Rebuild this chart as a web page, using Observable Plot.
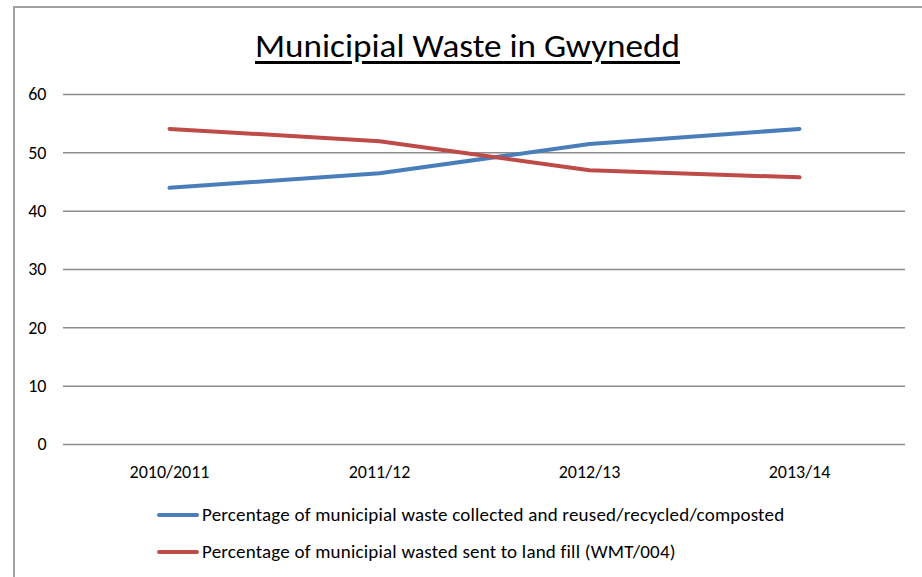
<!DOCTYPE html>
<html><head><meta charset="utf-8">
<script src="https://cdn.jsdelivr.net/npm/d3@7"></script>
<script src="https://cdn.jsdelivr.net/npm/@observablehq/plot@0.6"></script>
<style>
html,body{margin:0;padding:0;background:#fff;}
#wrap{position:relative;width:922px;height:577px;overflow:hidden;font-family:Carlito,"Liberation Sans Narrow","Open Sans",sans-serif;}
#frame{position:absolute;left:13px;top:6px;width:920px;height:580px;border-left:2px solid #a0a0a0;border-top:2px solid #a0a0a0;}
#title{position:absolute;left:255px;top:26px;font-size:33px;line-height:40px;color:#000;transform-origin:0 0;white-space:nowrap;}
#title span{text-decoration:underline;text-decoration-thickness:3px;text-underline-offset:4px;}
#chart{position:absolute;left:0;top:0;}
#chart svg text{font-size:18px !important;fill:#000;}
.leg{position:absolute;left:157px;font-size:19px;letter-spacing:0.2px;color:#000;display:flex;align-items:center;white-space:nowrap;}
.sw{display:inline-block;width:42px;height:4px;border-radius:2px;margin-right:3px;}
</style></head>
<body>
<div id="wrap">
  <div id="chart"></div>
  <div id="frame"></div>
  <div id="title"><span>Municipial Waste in Gwynedd</span></div>
  <div id="legend"></div>
</div>
<script>
const years = ["2010/2011", "2011/12", "2012/13", "2013/14"];
const recycled = [44.0, 46.5, 51.5, 54.1];
const landfill = [54.1, 52.0, 47.0, 45.8];
const seriesNames = [
  "Percentage of municipial waste collected and reused/recycled/composted",
  "Percentage of municipial wasted sent to land fill (WMT/004)"
];
const seriesColors = ["#4a7ebb", "#be4b48"];
const yTicks = [0, 10, 20, 30, 40, 50, 60];

const rows = [];
years.forEach((y, i) => {
  rows.push({year: y, value: recycled[i], series: seriesNames[0]});
  rows.push({year: y, value: landfill[i], series: seriesNames[1]});
});

const chart = Plot.plot({
  width: 922,
  height: 577,
  marginLeft: 63,
  marginRight: 17,
  marginTop: 94,
  marginBottom: 133,
  style: {fontFamily: 'Carlito,"Liberation Sans Narrow","Open Sans",sans-serif', fontSize: "18px", color: "#000", background: "transparent"},
  x: {type: "point", domain: years, padding: 0.5, label: null},
  y: {domain: [0, 60], ticks: yTicks, label: null},
  color: {domain: seriesNames, range: seriesColors},
  marks: [
    Plot.ruleY(yTicks, {stroke: "#8c8c8c", strokeWidth: 1.5}),
    Plot.axisY({ticks: yTicks, tickSize: 0, tickPadding: 17, fontSize: 18, label: null}),
    Plot.axisX({tickSize: 0, tickPadding: 21, fontSize: 18, label: null}),
    Plot.line(rows, {x: "year", y: "value", z: "series", stroke: "series", strokeWidth: 4, strokeLinecap: "round", strokeLinejoin: "round"})
  ]
});
document.getElementById("chart").appendChild(chart);

const legend = document.getElementById("legend");
seriesNames.forEach((name, i) => {
  const d = document.createElement("div");
  d.className = "leg";
  d.style.top = (503 + i * 37) + "px";
  d.innerHTML = `<span class="sw" style="background:${seriesColors[i]}"></span><span>${name}</span>`;
  legend.appendChild(d);
});

// stretch title to reference width
const t = document.getElementById("title");
const w = t.getBoundingClientRect().width;
t.style.transform = `scaleX(${425 / w})`;
</script>
</body></html>
